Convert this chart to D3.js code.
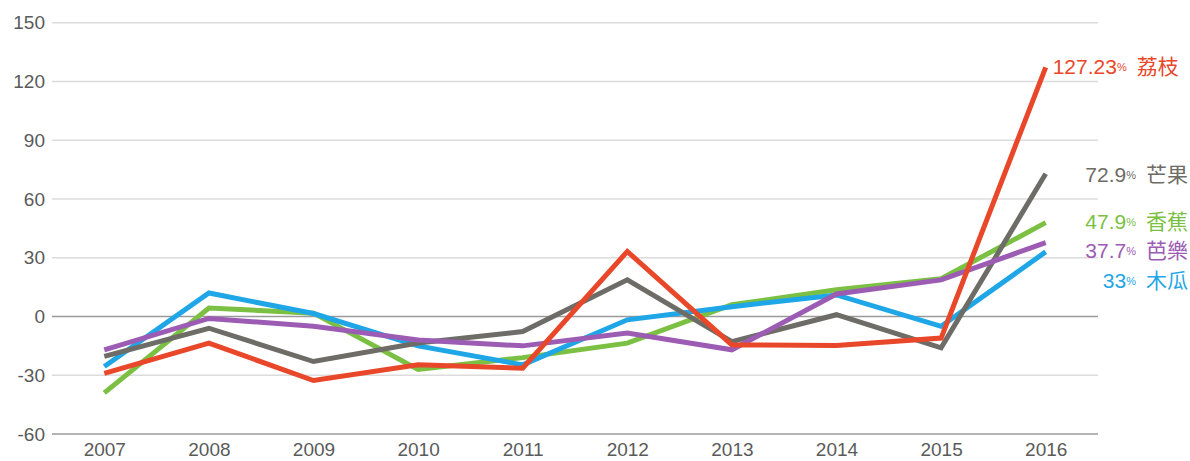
<!DOCTYPE html>
<html><head><meta charset="utf-8">
<script src="https://cdn.jsdelivr.net/npm/d3@7"></script>
<style>
body{margin:0;background:#fff;}
svg text{font-family:"Liberation Sans",Arial,sans-serif;}
</style></head>
<body><svg id="c" width="1190" height="461"></svg>
<script>
const years = ["2007","2008","2009","2010","2011","2012","2013","2014","2015","2016"];
const yTicks = [150,120,90,60,30,0,-30,-60];
const names = ["荔枝","芒果","香蕉","芭樂","木瓜"];
const lastLabels = ["127.23","72.9","47.9","37.7","33"];
const lychee = [-29,-13.6,-32.7,-24.7,-26.4,33.2,-14.5,-14.8,-11,127.23];
const mango  = [-20.4,-6,-23,-13.5,-7.7,18.7,-12.8,0.9,-16,72.9];
const banana = [-39,4.3,1.7,-27,-21,-13.6,6,13.6,19.3,47.9];
const guava  = [-17,-1,-5,-12,-15,-8.5,-17,11.5,18.7,37.7];
const papaya = [-25.5,12,1.5,-15,-24.7,-1.7,5,11,-5,33];
const colors = ["#e9472a","#6e6c66","#7bc043","#9c5cb4","#1fa6e6"];

const series = [lychee,mango,banana,guava,papaya];
const svg = d3.select("#c");
const x = d3.scalePoint().domain(years).range([52,1098]).padding(0.5);
const y = d3.scaleLinear().domain([-60,150]).range([434,22.7]);

// grid
const grid = svg.append("g");
grid.selectAll("line").data(yTicks).join("line")
  .attr("x1",52).attr("x2",1098)
  .attr("y1",d=>y(d)).attr("y2",d=>y(d))
  .attr("stroke",d=>(d===0||d===-60)?"#9a9a9a":"#dcdcdc")
  .attr("stroke-width",d=>(d===0||d===-60)?1.6:1.4);

// y axis labels
const yAxis = d3.axisLeft(y).tickValues(yTicks).tickSize(0).tickPadding(0).tickFormat(d=>String(d));
const ya = svg.append("g").attr("transform","translate(45,0)").call(yAxis);
ya.select(".domain").remove();
ya.selectAll("text").attr("font-size",19).attr("fill","#5a5a5a").attr("font-family","'Liberation Sans',Arial,sans-serif");

// x axis labels
const xAxis = d3.axisBottom(x).tickSize(0).tickPadding(0);
const xa = svg.append("g").attr("transform","translate(0,442)").call(xAxis);
xa.select(".domain").remove();
xa.selectAll("text").attr("font-size",19).attr("fill","#5a5a5a").attr("font-family","'Liberation Sans',Arial,sans-serif");

// lines (draw order: back to front)
const order = [2,4,1,3,0];
const line = d3.line().x((d,i)=>x(years[i])).y(d=>y(d));
order.forEach(k=>{
  svg.append("path").datum(series[k]).attr("d",line)
    .attr("fill","none").attr("stroke",colors[k]).attr("stroke-width",5)
    .attr("stroke-linejoin","miter").attr("stroke-linecap","butt");
});

// end labels
const nudge = [1,2,0,9,30];
series.forEach((s,k)=>{
  const v = s[s.length-1];
  const t = svg.append("text").attr("fill",colors[k]);
  if(k===0){
    t.attr("x",x(years[9])+7).attr("y",y(v)+nudge[k]).attr("text-anchor","start");
  } else {
    t.attr("x",1188).attr("y",y(v)+nudge[k]).attr("text-anchor","end");
  }
  t.attr("dominant-baseline","middle");
  t.append("tspan").attr("font-size",21).text(lastLabels[k]);
  t.append("tspan").attr("font-size",11).text("%");
  t.append("tspan").attr("font-size",21).attr("font-family","'Noto Sans CJK TC',sans-serif").attr("dx",10).text(names[k]);
});
</script></body></html>
